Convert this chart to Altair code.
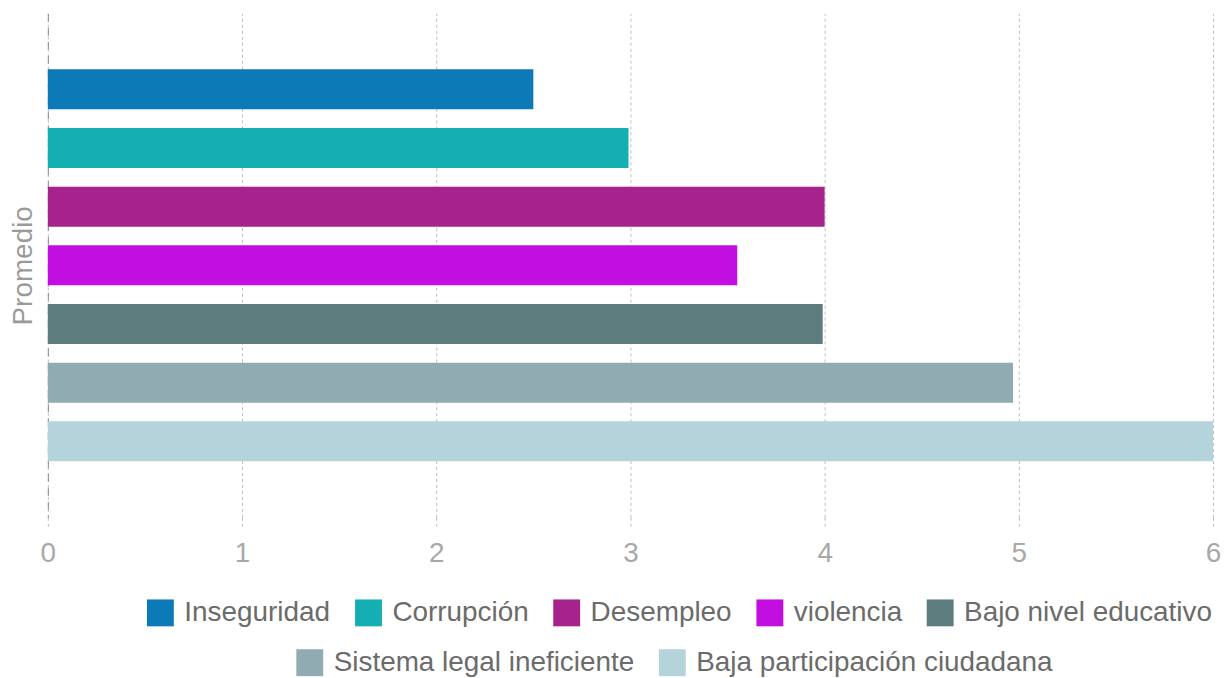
import altair as alt
import pandas as pd

series = ["Inseguridad", "Corrupción", "Desempleo", "violencia",
          "Bajo nivel educativo", "Sistema legal ineficiente",
          "Baja participación ciudadana"]
values = [2.5, 2.99, 4.0, 3.55, 3.99, 4.97, 6.0]
colors = ["#0b7ab6", "#14afb3", "#a6238e", "#c20ee0",
          "#5c7c7e", "#90acb2", "#b5d3da"]
x_ticks = [0, 1, 2, 3, 4, 5, 6]
row1 = series[:5]
row2 = series[5:]

df = pd.DataFrame({"serie": series, "valor": values})

FONT = "Liberation Sans"

x_enc = alt.X("valor:Q",
              scale=alt.Scale(domain=[0, 6], nice=False),
              axis=alt.Axis(values=x_ticks, title=None, labelFlush=False,
                            grid=True, gridDash=[3, 3], gridColor="#bdbdbd",
                            domain=False, ticks=True, tickSize=12,
                            tickDash=[3, 3], tickColor="#bdbdbd",
                            labelFontSize=28, labelColor="#a8a8a8",
                            labelFont=FONT, labelPadding=10))
y_enc = alt.Y("serie:N",
              scale=alt.Scale(domain=series, paddingInner=0.318, paddingOuter=0.954),
              axis=alt.Axis(labels=False, ticks=False, domain=True,
                            domainDash=[8, 6], domainColor="#8a8a8a",
                            title="Promedio", titleFontSize=28,
                            titleFontWeight="normal", titleColor="#9a9a9a",
                            titleFont=FONT, titlePadding=10))

legend_common = dict(orient="none", direction="horizontal", title=None,
                     symbolType="square", symbolSize=729,
                     symbolStrokeWidth=0, labelFontSize=28,
                     labelFont=FONT, labelColor="#6b6b6b",
                     labelOffset=10, columnPadding=24, padding=0,
                     labelLimit=0)

base = alt.Chart(df)

layer1 = base.transform_filter(
    alt.FieldOneOfPredicate(field="serie", oneOf=row1)
).mark_bar().encode(
    x=x_enc, y=y_enc,
    color=alt.Color("serie:N",
                    scale=alt.Scale(domain=row1, range=colors[:5]),
                    legend=alt.Legend(legendX=99, legendY=588, **legend_common))
)

layer2 = base.transform_filter(
    alt.FieldOneOfPredicate(field="serie", oneOf=row2)
).mark_bar().encode(
    x=x_enc, y=y_enc,
    fill=alt.Fill("serie:N",
                  scale=alt.Scale(domain=row2, range=colors[5:]),
                  legend=alt.Legend(legendX=249, legendY=638, **legend_common))
)

chart = alt.layer(layer1, layer2).resolve_scale(
    color="independent", fill="independent"
).properties(
    width=1170, height=506,
    background="white",
    autosize=alt.AutoSizeParams(type="none"),
    padding={"left": 40, "top": 4, "right": 9, "bottom": 160},
).configure_view(stroke=None)

chart.save("out.html", embed_options={"renderer": "svg", "actions": False})
